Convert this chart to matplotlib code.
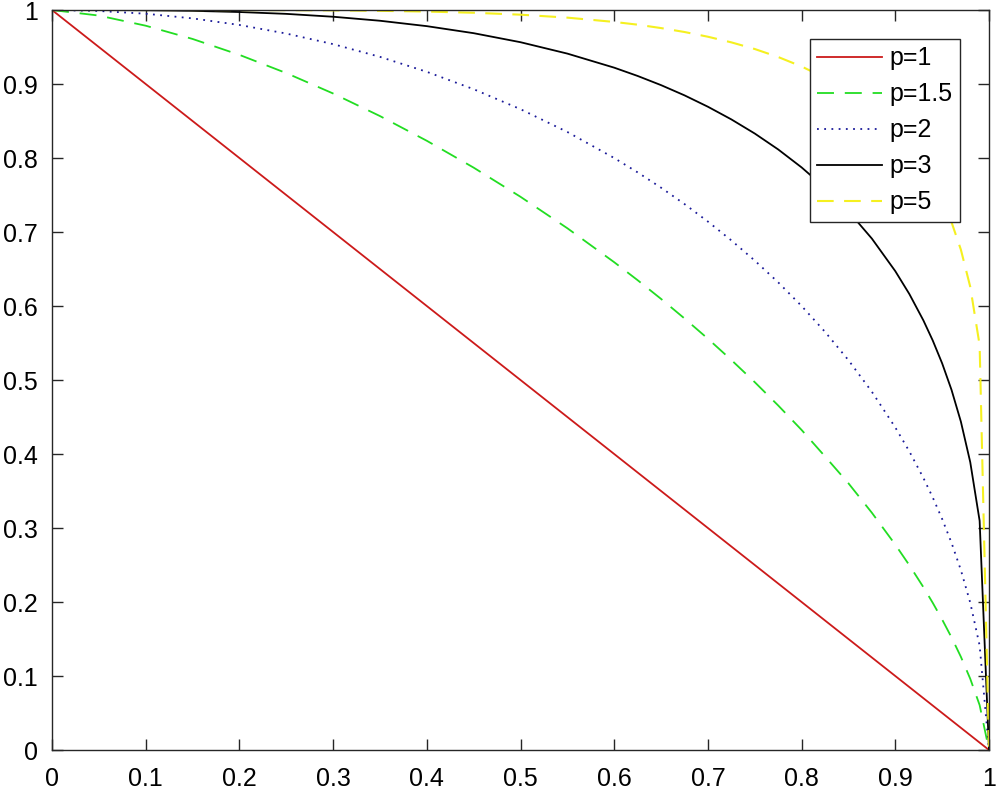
import matplotlib.pyplot as plt

# x positions (denser near x=1 where curves bend)
x = [0, 0.05, 0.1, 0.15, 0.2, 0.25, 0.3, 0.35, 0.4, 0.45, 0.5, 0.55, 0.6,
     0.625, 0.65, 0.675, 0.7, 0.725, 0.75, 0.775, 0.8, 0.825, 0.85, 0.875,
     0.9, 0.915, 0.93, 0.94, 0.95, 0.96, 0.97, 0.98, 0.99, 1.0]

y_p1 = [1.0, 0.95, 0.9, 0.85, 0.8, 0.75, 0.7, 0.65, 0.6, 0.55, 0.5, 0.45, 0.4,
        0.375, 0.35, 0.325, 0.3, 0.275, 0.25, 0.225, 0.2, 0.175, 0.15, 0.125,
        0.1, 0.085, 0.07, 0.06, 0.05, 0.04, 0.03, 0.02, 0.01, 0.0]
y_p15 = [1.0, 0.9925, 0.9788, 0.9609, 0.9394, 0.9148, 0.8872, 0.8567, 0.8233,
         0.7870, 0.7476, 0.7051, 0.6592, 0.6349, 0.6096, 0.5832, 0.5558,
         0.5271, 0.4971, 0.4656, 0.4325, 0.3967, 0.3604, 0.3206, 0.2775,
         0.2497, 0.2200, 0.1988, 0.1763, 0.1522, 0.1259, 0.0962, 0.0607, 0.0]
y_p2 = [1.0, 0.9987, 0.9950, 0.9887, 0.9798, 0.9682, 0.9539, 0.9367, 0.9165,
        0.8930, 0.8660, 0.8352, 0.8000, 0.7806, 0.7599, 0.7378, 0.7141,
        0.6887, 0.6614, 0.6320, 0.6000, 0.5651, 0.5268, 0.4841, 0.4359,
        0.4035, 0.3676, 0.3412, 0.3122, 0.2800, 0.2431, 0.1990, 0.1411, 0.0]
y_p3 = [1.0, 1.0, 0.9997, 0.9989, 0.9973, 0.9948, 0.9909, 0.9855, 0.9782,
        0.9687, 0.9565, 0.9411, 0.9221, 0.9109, 0.8985, 0.8847, 0.8693,
        0.8522, 0.8331, 0.8116, 0.7873, 0.7597, 0.7280, 0.6911, 0.6471,
        0.6162, 0.5805, 0.5533, 0.5225, 0.4867, 0.4437, 0.3889, 0.3097, 0.0]
y_p5 = [1.0, 1.0, 1.0, 1.0, 0.9999, 0.9998, 0.9995, 0.9989, 0.9979, 0.9963,
        0.9937, 0.9897, 0.9839, 0.9802, 0.9756, 0.9703, 0.9639, 0.9563,
        0.9473, 0.9365, 0.9237, 0.9082, 0.8893, 0.8660, 0.8365, 0.8146,
        0.7882, 0.7674, 0.7428, 0.7133, 0.6761, 0.6259, 0.5471, 0.0]

labels = ['p=1', 'p=1.5', 'p=2', 'p=3', 'p=5']

plt.rcParams['font.family'] = ['Liberation Sans', 'DejaVu Sans']

fig = plt.figure(figsize=(10, 7.95), dpi=100)
ax = fig.add_axes([0.052, 0.0566, 0.937, 0.9308])

ax.plot(x, y_p1, color='#cc1a1a', lw=1.3, label=labels[0])
ax.plot(x, y_p15, color='#22dd22', lw=1.3, dashes=(9.4, 6), label=labels[1])
ax.plot(x, y_p2, color='#1a1a99', lw=1.3, dashes=(1, 3), label=labels[2])
ax.plot(x, y_p3, color='black', lw=1.3, label=labels[3])
ax.plot(x, y_p5, color='#f5f020', lw=1.5, dashes=(8, 5), label=labels[4])

ax.set_xlim(0, 1)
ax.set_ylim(0, 1)
ticks = [i / 10 for i in range(11)]
tick_labels = ['0', '0.1', '0.2', '0.3', '0.4', '0.5', '0.6', '0.7', '0.8', '0.9', '1']
ax.set_xticks(ticks)
ax.set_xticklabels(tick_labels)
ax.set_yticks(ticks)
ax.set_yticklabels(tick_labels)
ax.tick_params(direction='in', top=True, right=True, length=8, width=1,
               labelsize=18, color='#262626')
ax.tick_params(axis='x', pad=12)
ax.tick_params(axis='y', pad=10)
for s in ax.spines.values():
    s.set_color('#262626')
    s.set_linewidth(1)

leg = ax.legend(loc='upper right', bbox_to_anchor=(0.969, 0.961),
                borderaxespad=0, fontsize=18, handlelength=2.6,
                labelspacing=0.48, handletextpad=0.28, borderpad=0.3,
                fancybox=False, framealpha=1)
leg.get_frame().set_edgecolor('#262626')
leg.get_frame().set_linewidth(1)

fig.savefig('out.png', dpi=100)
